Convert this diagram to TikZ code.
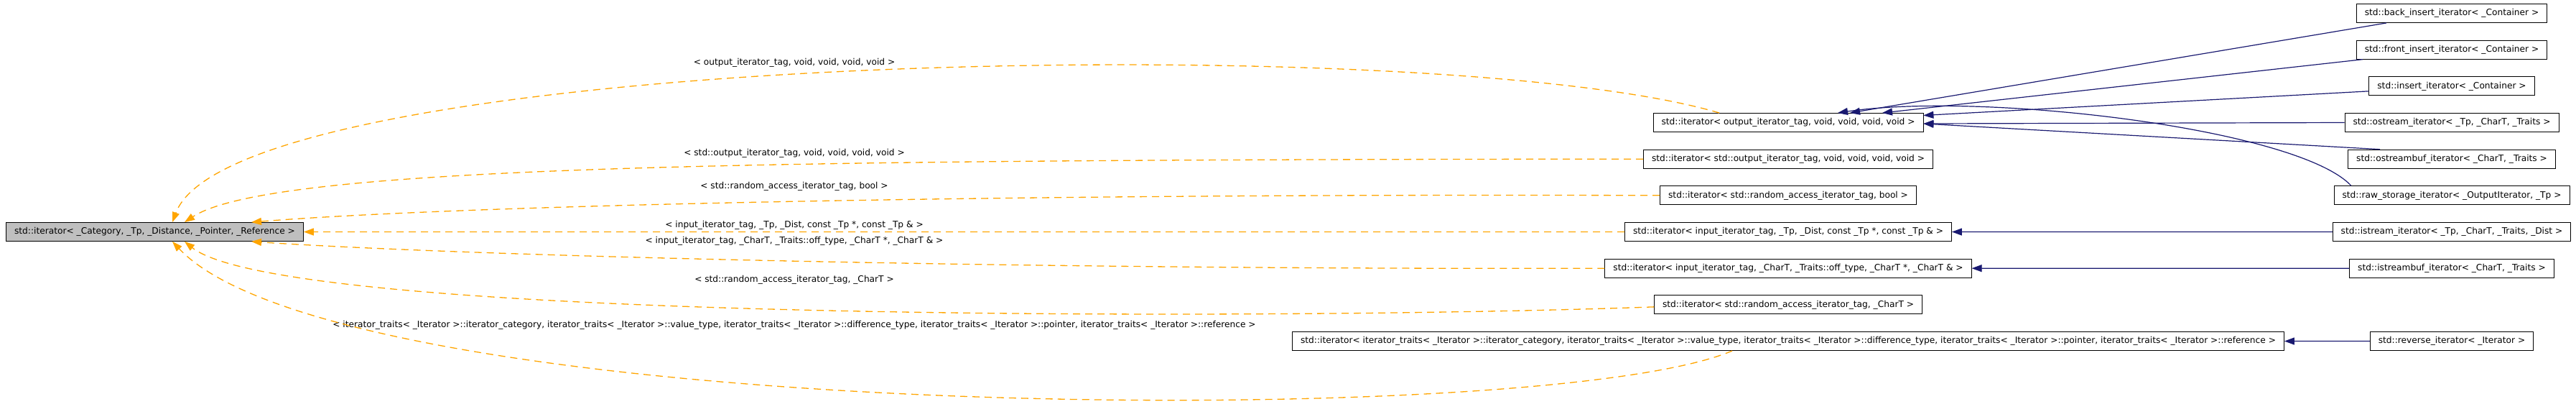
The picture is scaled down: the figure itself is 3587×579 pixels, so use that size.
\documentclass[tikz,border=0pt]{standalone}
\usepackage{fontspec}
\setmainfont{DejaVu Sans}
\usetikzlibrary{positioning, arrows.meta}
\definecolor{depcol}{HTML}{FFA500}
\definecolor{inhcol}{HTML}{191970}
\definecolor{basefill}{HTML}{BFBFBF}

\begin{document}
\begin{tikzpicture}[x=1pt, y=-1pt, node distance=50.67pt]
        \tikzstyle{cls}=[draw, rectangle, line width=0.9pt, minimum height=26pt, inner xsep=11.5pt, inner ysep=0pt, font=\fontsize{12.2}{14}\selectfont];
        \tikzstyle{basecls}=[cls, fill=basefill];
        \tikzstyle{lbl}=[inner sep=0pt, font=\fontsize{12.2}{14}\selectfont];
        \tikzstyle{dep}=[depcol, line width=1.3pt, dash pattern=on 10pt off 7pt, -{Triangle[length=14pt, width=10pt]}];
        \tikzstyle{inh}=[inhcol, line width=1.2pt, -{Triangle[length=14pt, width=10pt]}];
        \useasboundingbox (0,0) rectangle (3587,579);

        % template
        \node[basecls] (base) at (215.5,322.5) {std::iterator< \_Category, \_Tp, \_Distance, \_Pointer, \_Reference >};

        % instances
        \node[cls] (outtag) at (2490,170.5) {std::iterator< output\_iterator\_tag, void, void, void, void >};
        \node[cls, below of=outtag] (stdouttag) {std::iterator< std::output\_iterator\_tag, void, void, void, void >};
        \node[cls, below of=stdouttag] (rabool) {std::iterator< std::random\_access\_iterator\_tag, bool >};
        \node[cls, below of=rabool] (intp) {std::iterator< input\_iterator\_tag, \_Tp, \_Dist, const \_Tp *, const \_Tp \& >};
        \node[cls, below of=intp] (inchar) {std::iterator< input\_iterator\_tag, \_CharT, \_Traits::off\_type, \_CharT *, \_CharT \& >};
        \node[cls, below of=inchar] (rachar) {std::iterator< std::random\_access\_iterator\_tag, \_CharT >};
        \node[cls, below of=rachar] (traits) {std::iterator< iterator\_traits< \_Iterator >::iterator\_category, iterator\_traits< \_Iterator >::value\_type, iterator\_traits< \_Iterator >::difference\_type, iterator\_traits< \_Iterator >::pointer, iterator\_traits< \_Iterator >::reference >};

        % derived classes
        \node[cls] (backins) at (3414,18.5) {std::back\_insert\_iterator< \_Container >};
        \node[cls, below of=backins] (frontins) {std::front\_insert\_iterator< \_Container >};
        \node[cls, below of=frontins] (ins) {std::insert\_iterator< \_Container >};
        \node[cls, below of=ins] (ostr) {std::ostream\_iterator< \_Tp, \_CharT, \_Traits >};
        \node[cls, below of=ostr] (ostrbuf) {std::ostreambuf\_iterator< \_CharT, \_Traits >};
        \node[cls, below of=ostrbuf] (rawstor) {std::raw\_storage\_iterator< \_OutputIterator, \_Tp >};
        \node[cls, below of=rawstor] (istr) {std::istream\_iterator< \_Tp, \_CharT, \_Traits, \_Dist >};
        \node[cls, below of=istr] (istrbuf) {std::istreambuf\_iterator< \_CharT, \_Traits >};
        \node[cls, below of=istrbuf, node distance=101.34pt] (revit) {std::reverse\_iterator< \_Iterator >};

        % template arguments
        \node[lbl] (argout) at (1106,87) {< output\_iterator\_tag, void, void, void, void >};
        \node[lbl] (argstdout) at (1106,213) {< std::output\_iterator\_tag, void, void, void, void >};
        \node[lbl] (argrabool) at (1106,259) {< std::random\_access\_iterator\_tag, bool >};
        \node[lbl] (argintp) at (1106,313) {< input\_iterator\_tag, \_Tp, \_Dist, const \_Tp *, const \_Tp \& >};
        \node[lbl] (arginchar) at (1106,335) {< input\_iterator\_tag, \_CharT, \_Traits::off\_type, \_CharT *, \_CharT \& >};
        \node[lbl] (argrachar) at (1106,389) {< std::random\_access\_iterator\_tag, \_CharT >};
        \node[lbl] (argtraits) at (1106,452) {< iterator\_traits< \_Iterator >::iterator\_category, iterator\_traits< \_Iterator >::value\_type, iterator\_traits< \_Iterator >::difference\_type, iterator\_traits< \_Iterator >::pointer, iterator\_traits< \_Iterator >::reference >};

        \draw[dep] ([xshift=-96pt]outtag.north) .. controls +(-394,-117) and +(90,-239) .. ([xshift=24.5pt]base.north);
        \draw[dep] (stdouttag.west) .. controls +(-1185,1) and +(123,-81) .. ([xshift=41.5pt]base.north);
        \draw[dep] (rabool.west) .. controls +(-904,-3) and +(300,-24) .. ([xshift=134.5pt]base.north);
        \draw[dep] (intp.west) -- (base.east);
        \draw[dep] (inchar.west) .. controls +(-830,2) and +(300,20) .. ([xshift=134.5pt]base.south);
        \draw[dep] ([yshift=-3pt]rachar.west) .. controls +(-488,18) and +(143,114) .. ([xshift=41.5pt]base.south);
        \draw[dep] ([xshift=-78pt]traits.south) .. controls +(-262,112) and +(240,254) .. ([xshift=24.5pt]base.south);

        \path[inh]
        ([xshift=-91pt]backins.south) edge ([xshift=86pt]outtag.north)
        ([xshift=-124pt]frontins.south) edge ([xshift=131pt]outtag.north)
        ([yshift=-7pt]ins.west) edge ([yshift=10pt]outtag.east)
        (ostr.west) edge ([yshift=-1.5pt]outtag.east)
        ([xshift=-100pt]ostrbuf.north) edge ([yshift=-1.5pt]outtag.east)
        (istr) edge (intp)
        (istrbuf) edge (inchar)
        (revit) edge (traits);
        \draw[inh] ([xshift=-140pt]rawstor.north) .. controls +(-75,-80) and +(200,-30) .. ([xshift=69pt]outtag.north);
\end{tikzpicture}
\end{document}
